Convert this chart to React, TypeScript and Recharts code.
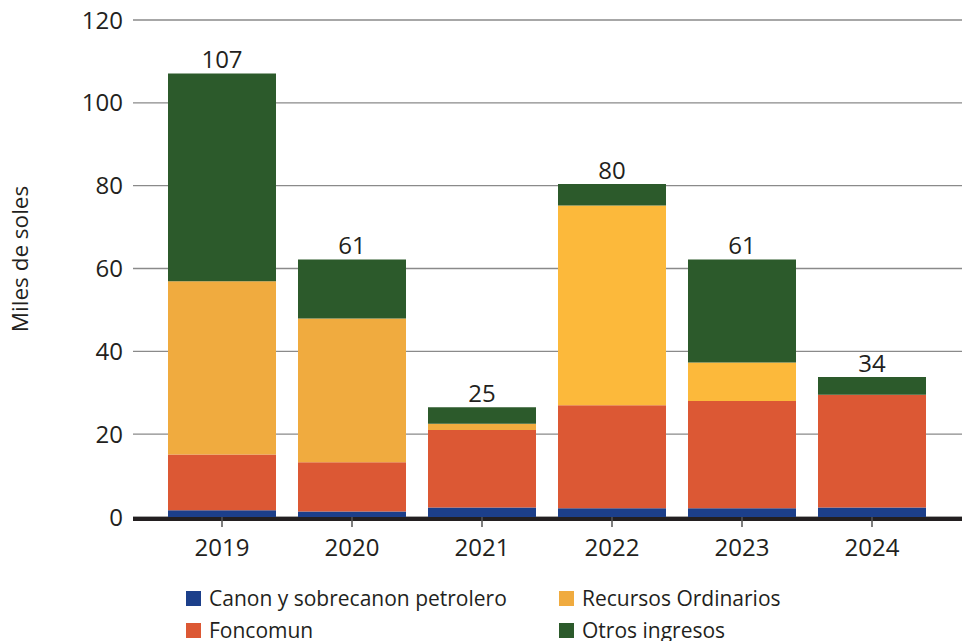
import { BarChart, Bar, XAxis, YAxis, CartesianGrid, LabelList, Cell, Label } from 'recharts';

const years = ['2019', '2020', '2021', '2022', '2023', '2024'];
const canon = [1.6, 1.3, 2.3, 2.1, 2.1, 2.3];
const foncomun = [13.5, 11.9, 18.7, 24.9, 25.9, 27.2];
const recursos = [41.8, 34.7, 1.5, 48.2, 9.3, 0];
const otros = [50.2, 14.3, 4.0, 5.2, 24.9, 4.3];
const totals = [107, 61, 25, 80, 61, 34];
const yTicks = [0, 20, 40, 60, 80, 100, 120];

const BLUE = '#1c3f8a';
const RED = '#dc5834';
const ORANGE = '#f0ab3f';
const YELLOW = '#fcb93b';
const GREEN = '#2c5a2b';
const recursosColors = [ORANGE, ORANGE, ORANGE, YELLOW, YELLOW, ORANGE];

const FONT = '"Open Sans", "Noto Sans", sans-serif';

const data = years.map((y, i) => ({
  year: y,
  canon: canon[i],
  foncomun: foncomun[i],
  recursos: recursos[i],
  otros: otros[i],
  label: totals[i],
}));

const legendItems = [
  { name: 'Canon y sobrecanon petrolero', color: BLUE, left: 186, top: 590 },
  { name: 'Recursos Ordinarios', color: ORANGE, left: 559, top: 590 },
  { name: 'Foncomun', color: RED, left: 186, top: 622 },
  { name: 'Otros ingresos', color: GREEN, left: 559, top: 622 },
];

export default function App() {
  return (
    <div style={{ position: 'absolute', left: 0, top: 0, width: 962, height: 641, background: '#fff', fontFamily: FONT }}>
      <BarChart
        width={962}
        height={641}
        data={data}
        margin={{ top: 20, right: 0, left: 0, bottom: 81 }}
        barSize={108}
      >
        <CartesianGrid vertical={false} stroke="#8a8a8a" strokeWidth={1.3} />
        <XAxis
          dataKey="year"
          height={43}
          padding={{ left: 24, right: 25 }}
          axisLine={{ stroke: '#231f20', strokeWidth: 4, transform: 'translate(0,2)' }}
          tickLine={{ stroke: '#555', strokeWidth: 1.5 }}
          tickSize={10}
          tickMargin={12}
          tick={{ fontSize: 24, fill: '#231f20', fontFamily: FONT }}
        />
        <YAxis
          width={133}
          domain={[0, 120]}
          ticks={yTicks}
          axisLine={false}
          tickLine={false}
          tickSize={0}
          tickMargin={10}
          tick={{ fontSize: 24, fill: '#231f20', fontFamily: FONT }}
        >
          <Label
            content={() => (
              <text
                x={19}
                y={259}
                transform="rotate(-90 19 259)"
                textAnchor="middle"
                dominantBaseline="central"
                fontSize={22.5}
                fill="#231f20"
                fontFamily={FONT}
              >
                Miles de soles
              </text>
            )}
          />
        </YAxis>
        <Bar dataKey="canon" stackId="a" fill={BLUE} isAnimationActive={false} />
        <Bar dataKey="foncomun" stackId="a" fill={RED} isAnimationActive={false} />
        <Bar dataKey="recursos" stackId="a" fill={ORANGE} isAnimationActive={false}>
          {data.map((d, i) => (
            <Cell key={d.year} fill={recursosColors[i]} />
          ))}
        </Bar>
        <Bar dataKey="otros" stackId="a" fill={GREEN} isAnimationActive={false}>
          <LabelList
            dataKey="label"
            position="top"
            offset={5}
            fontSize={24}
            fill="#231f20"
            fontFamily={FONT}
          />
        </Bar>
      </BarChart>
      {legendItems.map((it) => (
        <div
          key={it.name}
          style={{
            position: 'absolute',
            left: it.left,
            top: it.top,
            height: 16,
            display: 'flex',
            alignItems: 'center',
            whiteSpace: 'nowrap',
          }}
        >
          <span style={{ display: 'inline-block', width: 15, height: 15, background: it.color, marginRight: 8 }} />
          <span style={{ fontSize: 21, color: '#231f20', lineHeight: '16px' }}>{it.name}</span>
        </div>
      ))}
    </div>
  );
}
